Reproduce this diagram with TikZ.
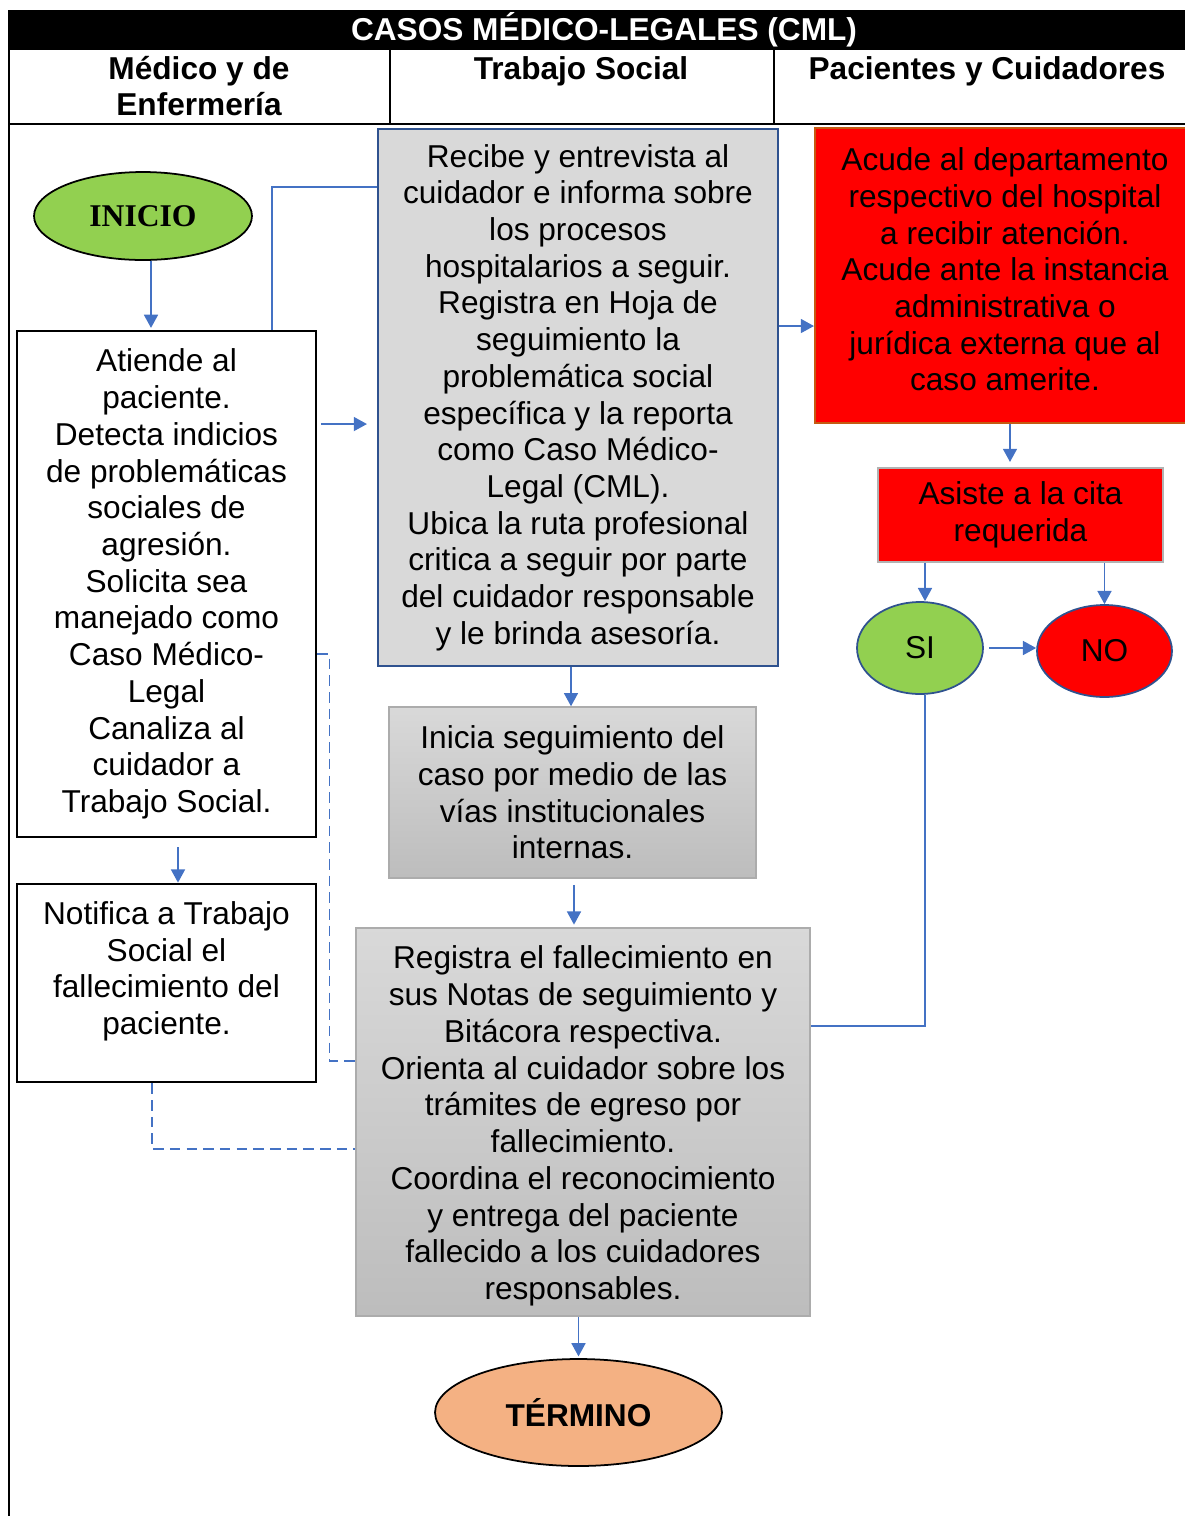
\documentclass[tikz,border=0pt]{standalone}
\usepackage{fontspec}
\setmainfont{Liberation Sans}
\newfontfamily\romana{Liberation Serif}
\usetikzlibrary{arrows.meta,shapes.geometric}
\definecolor{flujo}{RGB}{68,114,196}
\definecolor{azulborde}{RGB}{47,82,143}
\definecolor{verde}{RGB}{146,208,80}
\definecolor{durazno}{RGB}{244,177,131}
\definecolor{cafe}{RGB}{197,90,17}
\definecolor{grisclaro}{RGB}{217,217,217}
\definecolor{rojo}{RGB}{255,0,0}

\begin{document}
\begin{tikzpicture}[x=0.02cm,y=-0.02cm,font=\fontsize{18}{20.9}\selectfont,>={Triangle[length=7.5pt,width=8pt]},
  caja/.style={rectangle,align=center,inner sep=0pt},
  blanca/.style={caja,draw=black,line width=1.6pt,fill=white},
  azul/.style={caja,draw=azulborde,line width=1.6pt,fill=grisclaro},
  gris/.style={caja,draw=gray!65,line width=0.9pt,top color=gray!30,bottom color=gray!52},
  roja/.style={caja,fill=rojo,line width=1.2pt},
  ovalo/.style={ellipse,inner sep=0pt,line width=1pt},
  flecha/.style={->,draw=flujo,line width=0.8pt},
  linea/.style={draw=flujo,line width=0.8pt},
  punteada/.style={draw=flujo,line width=0.9pt,dash pattern=on 6pt off 3.5pt},
  encab/.style={font=\fontsize{18}{20.4}\selectfont\bfseries,align=center}]
\useasboundingbox (0,0) rectangle (1185,1516);
% encabezado de la tabla
\fill[black] (8,10) rectangle (1185,50);
\node[encab,text=white] (titulo) at (604,30) {CASOS MÉDICO-LEGALES (CML)};
\draw[line width=1pt] (390,50) -- (390,124) (774,50) -- (774,124);
\draw[line width=1.3pt] (8,124) -- (1185,124);
\draw[line width=1.3pt] (9,10) -- (9,1516);
\node[encab] (medico) at (199,86) {Médico y de\\Enfermería};
\node[encab] (social) at (581,71) {Trabajo Social};
\node[encab] (pacientes) at (987,71) {Pacientes y Cuidadores};

% columna medico
\node[ovalo,draw=black,fill=verde,minimum width=4.36cm,minimum height=1.76cm,font=\romana\fontsize{18}{20}\selectfont\bfseries] (inicio) at (143,216) {INICIO};
\node[blanca,minimum width=5.98cm,minimum height=10.12cm] (atiende) at (166.5,584) {Atiende al\\paciente.\\Detecta indicios\\de problemáticas\\sociales de\\agresión.\\Solicita sea\\manejado como\\Caso Médico-\\Legal\\Canaliza al\\cuidador a\\Trabajo Social.};
\node[blanca,minimum width=5.98cm,minimum height=3.96cm] (notifica) at (166.5,983) {Notifica a Trabajo\\Social el\\fallecimiento del\\paciente.\rule[-0.6cm]{0pt}{0.6cm}};

% columna trabajo social
\node[azul,minimum width=8cm,minimum height=10.74cm] (recibe) at (578,397.5) {Recibe y entrevista al\\cuidador e informa sobre\\los procesos\\hospitalarios a seguir.\\Registra en Hoja de\\seguimiento la\\problemática social\\específica y la reporta\\como Caso Médico-\\Legal (CML).\\Ubica la ruta profesional\\critica a seguir por parte\\del cuidador responsable\\y le brinda asesoría.};
\node[gris,minimum width=7.34cm,minimum height=3.42cm] (inicia) at (572.5,792.5) {Inicia seguimiento del\\caso por medio de las\\vías institucionales\\internas.};
\node[gris,minimum width=9.08cm,minimum height=7.76cm] (registra) at (583,1122) {\rule{0pt}{0.62cm}Registra el fallecimiento en\\sus Notas de seguimiento y\\Bitácora respectiva.\\Orienta al cuidador sobre los\\trámites de egreso por\\fallecimiento.\\Coordina el reconocimiento\\y entrega del paciente\\fallecido a los cuidadores\\responsables.};
\node[ovalo,draw=black,fill=durazno,minimum width=5.74cm,minimum height=2.14cm,font=\fontsize{18}{20}\selectfont\bfseries] (termino) at (578.5,1412.5) {TÉRMINO};

% columna pacientes
\node[roja,draw=cafe,minimum width=7.6cm,minimum height=5.9cm] (acude) at (1005,275.5) {Acude al departamento\\respectivo del hospital\\a recibir atención.\\Acude ante la instancia\\administrativa o\\jurídica externa que al\\caso amerite.\rule[-0.25cm]{0pt}{0.25cm}};
\node[roja,draw=gray!60,line width=0.9pt,minimum width=5.7cm,minimum height=1.88cm] (asiste) at (1020.5,515) {Asiste a la cita\\requerida};
\node[ovalo,draw=azulborde,fill=verde,minimum width=2.52cm,minimum height=1.84cm] (si) at (920,648) {SI};
\node[ovalo,draw=azulborde,fill=rojo,minimum width=2.7cm,minimum height=1.84cm] (no) at (1104.5,651) {NO};

% conectores
\draw[flecha,shorten >=1pt] ([xshift=0.16cm]inicio.south) -- ([xshift=0.16cm]inicio.south |- atiende.north);
\draw[linea] ([xshift=2.11cm]atiende.north) |- ([yshift=4.21cm]recibe.west);
\draw[flecha,shorten <=2pt,shorten >=5.5pt] ([yshift=3.2cm]atiende.east) -- ([yshift=3.2cm]atiende.east -| recibe.west);
\draw[flecha,shorten <=5pt] ([xshift=0.23cm]atiende.south) -- ([xshift=0.23cm]notifica.north);
\draw[punteada] ([yshift=-1.4cm]atiende.east) -- ++(12,0) |- ([yshift=1.22cm]registra.west);
\draw[punteada] ([xshift=-0.29cm]notifica.south) |- ([yshift=-0.54cm]registra.west);
\draw[flecha] ([xshift=-0.14cm]recibe.south) -- ([xshift=-0.14cm]recibe.south |- inicia.north);
\draw[flecha,shorten <=3.5pt,shorten >=1.5pt] ([xshift=0.03cm]inicia.south) -- ([xshift=0.03cm]inicia.south |- registra.north);
\draw[flecha,shorten >=1pt] (termino.north |- registra.south) -- (termino.north);
\draw[flecha] ([yshift=1.43cm]recibe.east) -- ([yshift=1.43cm]recibe.east -| acude.west);
\draw[flecha,shorten >=3pt] ([xshift=0.1cm]acude.south) -- ([xshift=0.1cm]acude.south |- asiste.north);
\draw[flecha] ([xshift=0.1cm]si.north |- asiste.south) -- ([xshift=0.1cm]si.north);
\draw[flecha] (no.north |- asiste.south) -- (no.north);
\draw[flecha,shorten <=3pt] (si.east) -- (si.east -| no.west);
\draw[linea] ([xshift=0.1cm]si.south) |- ([yshift=1.92cm]registra.east);
\end{tikzpicture}
\end{document}
